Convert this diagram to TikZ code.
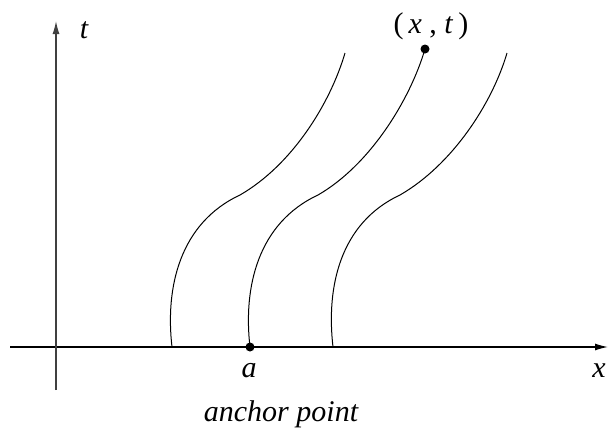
\documentclass[tikz,border=0pt]{standalone}
\usepackage{fontspec}
\setmainfont{Liberation Serif}
\usetikzlibrary{arrows.meta}
\begin{document}
\begin{tikzpicture}[x=1pt,y=-1pt,
  lbl/.style={anchor=base,inner sep=0pt,font=\fontsize{30}{36}\selectfont\itshape},
  axisline/.style={line width=1.3pt,-{Latex[length=13pt,width=7pt]}},
  curve/.style={line width=1pt},
  dotnode/.style={circle,fill=black,inner sep=0pt,minimum size=9pt}]
\useasboundingbox (0,0) rectangle (611,429);
% axes
\coordinate (xs) at (10,347);
\coordinate (xe) at (608,347);
\coordinate (ts) at (56,390);
\coordinate (te) at (56,21);
\draw[axisline] (xs) -- (xe);
\draw[axisline,draw=black!75] (ts) -- (te);
% labels
\node[lbl] (tl) at (84,38) {t};
\node[lbl] (xl) at (599,377) {x};
\node[lbl] (al) at (249,377) {a};
\node[lbl] (anc) at (281,421) {anchor point};
\node[lbl] (xt) at (431,33) {\upshape(\,\textit{x} , \textit{t}\,)};
% curves
\coordinate (b1) at (172,347);
\coordinate (m1) at (240,195);
\coordinate (e1) at (345,53);
\coordinate (m2) at (318,195);
\coordinate (b3) at (333,347);
\coordinate (m3) at (400,195);
\coordinate (e3) at (507,53);
\node[dotnode] (A) at (250,347) {};
\node[dotnode] (P) at (425,49) {};
\draw[curve] (b1) .. controls ([shift={(-7,-60)}]b1) and ([shift={(-60,28)}]m1) .. (m1)
  .. controls ([shift={(52,-30)}]m1) and ([shift={(-15,51)}]e1) .. (e1);
\draw[curve] (A.center) .. controls ([shift={(-7,-60)}]A.center) and ([shift={(-60,28)}]m2) .. (m2)
  .. controls ([shift={(52,-30)}]m2) and ([shift={(-15,51)}]P.center) .. (P.center);
\draw[curve] (b3) .. controls ([shift={(-7,-60)}]b3) and ([shift={(-60,28)}]m3) .. (m3)
  .. controls ([shift={(52,-30)}]m3) and ([shift={(-15,51)}]e3) .. (e3);
\end{tikzpicture}
\end{document}
